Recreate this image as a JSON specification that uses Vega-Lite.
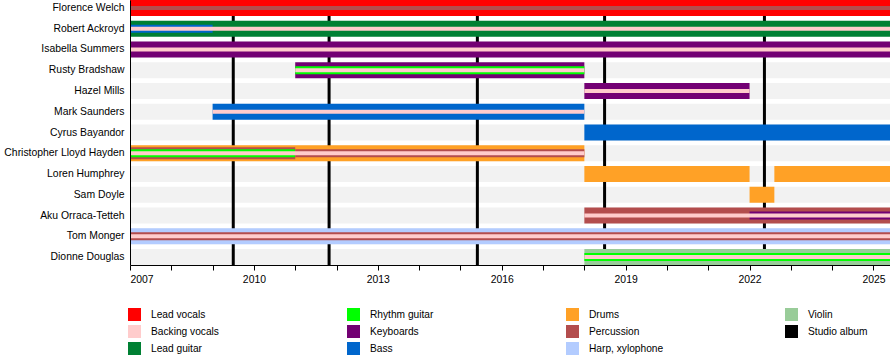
{
  "$schema": "https://vega.github.io/schema/vega-lite/v6.json",
  "width": 760,
  "height": 265,
  "autosize": {"type": "none"},
  "padding": {"left": 130, "top": 0, "right": 0, "bottom": 99},
  "background": "white",
  "config": {
    "font": "Liberation Sans",
    "view": {"stroke": null},
    "axis": {"labelFont": "Liberation Sans", "labelColor": "black", "domainColor": "black", "tickColor": "black", "grid": false, "title": null}
  },
  "datasets": {
    "members": [
      {"member": "Florence Welch"}, {"member": "Robert Ackroyd"}, {"member": "Isabella Summers"},
      {"member": "Rusty Bradshaw"}, {"member": "Hazel Mills"}, {"member": "Mark Saunders"},
      {"member": "Cyrus Bayandor"}, {"member": "Christopher Lloyd Hayden"}, {"member": "Loren Humphrey"},
      {"member": "Sam Doyle"}, {"member": "Aku Orraca-Tetteh"}, {"member": "Tom Monger"}, {"member": "Dionne Douglas"}
    ],
    "albums": [
      {"album": "Lungs", "year": 2009.5},
      {"album": "Ceremonials", "year": 2011.82},
      {"album": "How Big, How Blue, How Beautiful", "year": 2015.41},
      {"album": "High as Hope", "year": 2018.49},
      {"album": "Dance Fever", "year": 2022.36}
    ],
    "main": [
      {"member": "Florence Welch", "role": "Lead vocals", "start": 2007, "end": 2025.4},
      {"member": "Robert Ackroyd", "role": "Lead guitar", "start": 2007, "end": 2025.4},
      {"member": "Isabella Summers", "role": "Keyboards", "start": 2007, "end": 2025.4},
      {"member": "Rusty Bradshaw", "role": "Keyboards", "start": 2011, "end": 2018},
      {"member": "Hazel Mills", "role": "Keyboards", "start": 2018, "end": 2022},
      {"member": "Mark Saunders", "role": "Bass", "start": 2009, "end": 2018},
      {"member": "Cyrus Bayandor", "role": "Bass", "start": 2018, "end": 2025.4},
      {"member": "Christopher Lloyd Hayden", "role": "Drums", "start": 2007, "end": 2018},
      {"member": "Loren Humphrey", "role": "Drums", "start": 2018, "end": 2022},
      {"member": "Loren Humphrey", "role": "Drums", "start": 2022.6, "end": 2025.4},
      {"member": "Sam Doyle", "role": "Drums", "start": 2022, "end": 2022.6},
      {"member": "Aku Orraca-Tetteh", "role": "Percussion", "start": 2018, "end": 2025.4},
      {"member": "Tom Monger", "role": "Harp, xylophone", "start": 2007, "end": 2025.4},
      {"member": "Dionne Douglas", "role": "Violin", "start": 2018, "end": 2025.4}
    ],
    "wide": [
      {"member": "Christopher Lloyd Hayden", "role": "Percussion", "start": 2007, "end": 2011}
    ],
    "mid": [
      {"member": "Robert Ackroyd", "role": "Bass", "start": 2007, "end": 2009},
      {"member": "Rusty Bradshaw", "role": "Rhythm guitar", "start": 2011, "end": 2018},
      {"member": "Christopher Lloyd Hayden", "role": "Rhythm guitar", "start": 2007, "end": 2011},
      {"member": "Christopher Lloyd Hayden", "role": "Percussion", "start": 2011, "end": 2018},
      {"member": "Aku Orraca-Tetteh", "role": "Keyboards", "start": 2022, "end": 2025.4},
      {"member": "Tom Monger", "role": "Percussion", "start": 2007, "end": 2025.4},
      {"member": "Dionne Douglas", "role": "Rhythm guitar", "start": 2018, "end": 2025.4}
    ],
    "thin": [
      {"member": "Florence Welch", "role": "Percussion", "start": 2007, "end": 2025.4},
      {"member": "Robert Ackroyd", "role": "Backing vocals", "start": 2007, "end": 2025.4},
      {"member": "Isabella Summers", "role": "Backing vocals", "start": 2007, "end": 2025.4},
      {"member": "Rusty Bradshaw", "role": "Backing vocals", "start": 2011, "end": 2018},
      {"member": "Hazel Mills", "role": "Backing vocals", "start": 2018, "end": 2022},
      {"member": "Mark Saunders", "role": "Backing vocals", "start": 2009, "end": 2018},
      {"member": "Christopher Lloyd Hayden", "role": "Backing vocals", "start": 2007, "end": 2018},
      {"member": "Aku Orraca-Tetteh", "role": "Backing vocals", "start": 2018, "end": 2025.4},
      {"member": "Tom Monger", "role": "Backing vocals", "start": 2007, "end": 2025.4},
      {"member": "Dionne Douglas", "role": "Backing vocals", "start": 2018, "end": 2025.4}
    ]
  },
  "layer": [
    {
      "data": {"name": "members"},
      "mark": {"type": "rect", "color": "#f2f2f2"},
      "encoding": {
        "y": {"field": "member", "type": "nominal", "sort": null,
          "scale": {"paddingInner": 0.229, "paddingOuter": 0},
          "axis": {"ticks": false, "domain": true, "labelFontSize": 10.4, "labelPadding": 6, "title": null}}
      }
    },
    {
      "data": {"name": "albums"},
      "mark": {"type": "rule", "color": "black", "strokeWidth": 3},
      "encoding": {
        "x": {"field": "year", "type": "quantitative"}
      }
    },
    {
      "data": {"name": "main"},
      "mark": {"type": "bar", "height": {"band": 1}},
      "encoding": {
        "y": {"field": "member", "type": "nominal", "sort": null},
        "x": {"field": "start", "type": "quantitative",
          "scale": {"domain": [2007, 2025.4], "nice": false, "zero": false},
          "axis": {"values": [2007, 2008, 2009, 2010, 2011, 2012, 2013, 2014, 2015, 2016, 2017, 2018, 2019, 2020, 2021, 2022, 2023, 2024, 2025],
            "format": "d", "labelExpr": "datum.value % 3 === 0 ? datum.label : ''", "labelOverlap": false,
            "tickSize": 5, "labelFontSize": 10.4, "labelPadding": 4, "title": null}},
        "x2": {"field": "end"},
        "color": {"field": "role", "type": "nominal",
          "scale": {
            "domain": ["Lead vocals", "Backing vocals", "Lead guitar", "Rhythm guitar", "Keyboards", "Bass", "Drums", "Percussion", "Harp, xylophone", "Violin", "Studio album"],
            "range": ["#ff0000", "#ffcccc", "#008033", "#00ff00", "#730073", "#0066cc", "#ffa126", "#b34d4d", "#b3ccff", "#99cc99", "#000000"]
          },
          "legend": {"orient": "none", "legendX": -2, "legendY": 308, "columns": 4, "gridAlign": "all",
            "columnPadding": 121, "rowPadding": 4, "symbolType": "square", "symbolSize": 169,
            "symbolStrokeWidth": 0, "symbolOpacity": 1, "labelFontSize": 10.2, "labelFont": "Liberation Sans",
            "labelColor": "black", "labelOffset": 10, "title": null}}
      }
    },
    {
      "data": {"name": "wide"},
      "mark": {"type": "bar", "height": {"band": 0.75}},
      "encoding": {
        "y": {"field": "member", "type": "nominal", "sort": null},
        "x": {"field": "start", "type": "quantitative"},
        "x2": {"field": "end"},
        "color": {"field": "role", "type": "nominal"}
      }
    },
    {
      "data": {"name": "mid"},
      "mark": {"type": "bar", "height": {"band": 0.5}},
      "encoding": {
        "y": {"field": "member", "type": "nominal", "sort": null},
        "x": {"field": "start", "type": "quantitative"},
        "x2": {"field": "end"},
        "color": {"field": "role", "type": "nominal"}
      }
    },
    {
      "data": {"name": "thin"},
      "mark": {"type": "bar", "height": {"band": 0.25}},
      "encoding": {
        "y": {"field": "member", "type": "nominal", "sort": null},
        "x": {"field": "start", "type": "quantitative"},
        "x2": {"field": "end"},
        "color": {"field": "role", "type": "nominal"}
      }
    }
  ]
}
